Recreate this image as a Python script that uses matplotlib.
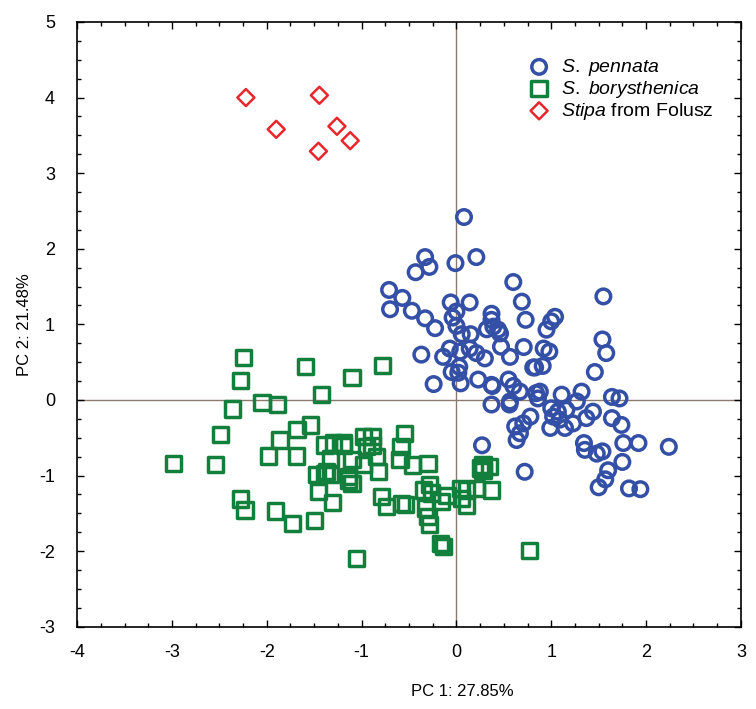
import matplotlib
matplotlib.use("Agg")
import matplotlib.pyplot as plt
from matplotlib.ticker import MultipleLocator

plt.rcParams['font.family'] = ['Liberation Sans', 'DejaVu Sans']
plt.rcParams['mathtext.fontset'] = 'custom'
plt.rcParams['mathtext.it'] = 'Liberation Sans:italic'
plt.rcParams['mathtext.rm'] = 'Liberation Sans'
plt.rcParams['axes.unicode_minus'] = False

# PCA scores
pennata_x = [0.08, -0.33, -0.285, -0.43, -0.01, 0.21, 0.60, -0.71, -0.57, -0.70,
             -0.47, -0.33, -0.225, -0.06, 0.14, 0.0, -0.04, 0.0, 0.37, 0.37,
             0.39, 0.44, 0.32, 0.69, 0.73, 0.15, 0.056, -0.37, -0.14, -0.07,
             0.04, 0.14, 0.21, 0.30, 0.47, 0.565, 0.71, -0.05, 0.02, 0.03,
             -0.24, 0.045, 0.23, 0.37, 0.55, 0.60, 0.81, 0.37, 0.565, 0.84,
             1.55, 1.04, 1.00, 0.95, 1.54, 1.58, 0.92, 0.98, 0.83, 0.91,
             1.46, 0.67, 0.88, 0.86, 1.11, 1.32, 1.27, 1.64, 1.72, 0.56,
             1.00, 1.07, 1.16, 1.02, 1.09, 0.78, 0.705, 0.62, 0.67, 0.635,
             0.99, 1.145, 1.23, 1.37, 1.44, 1.64, 1.74, 1.345, 1.355, 1.48,
             1.54, 1.76, 1.92, 2.24, 1.75, 0.27, 0.72, 1.60, 1.57, 1.50,
             1.82, 1.94, 0.46, 0.38]
pennata_y = [2.42, 1.89, 1.76, 1.69, 1.81, 1.89, 1.56, 1.455, 1.35, 1.20,
             1.18, 1.08, 0.95, 1.29, 1.29, 1.17, 1.09, 0.98, 1.14, 1.06,
             0.97, 0.93, 0.935, 1.30, 1.06, 0.87, 0.87, 0.60, 0.57, 0.68,
             0.64, 0.68, 0.62, 0.55, 0.705, 0.57, 0.70, 0.37, 0.36, 0.44,
             0.21, 0.22, 0.27, 0.20, 0.27, 0.185, 0.43, -0.06, -0.02, 0.09,
             1.37, 1.10, 1.04, 0.93, 0.80, 0.62, 0.68, 0.64, 0.43, 0.45,
             0.37, 0.11, 0.11, 0.02, 0.07, 0.11, -0.02, 0.04, 0.02, -0.06,
             -0.11, -0.155, -0.13, -0.22, -0.26, -0.22, -0.31, -0.35, -0.44, -0.53,
             -0.37, -0.37, -0.31, -0.24, -0.155, -0.24, -0.33, -0.57, -0.66, -0.71,
             -0.68, -0.57, -0.57, -0.62, -0.82, -0.60, -0.95, -0.93, -1.05, -1.155,
             -1.17, -1.18, 0.88, 0.185]

borys_x = [-2.245, -2.28, -2.36, -2.49, -2.985, -2.54, -2.28, -2.23, -1.91, -1.73,
           -1.50, -1.59, -1.42, -2.05, -1.89, -1.68, -1.54, -1.86, -1.98, -1.69,
           -1.385, -1.19, -0.98, -0.945, -0.98, -1.47, -1.385, -1.33, -1.14, -1.10,
           -1.455, -1.31, -1.05, -1.10, -0.78, -0.55, -0.585, -0.595, -0.46, -0.30,
           -0.89, -0.89, -0.84, -0.82, -1.19, -1.10, -1.33, -1.37, -1.14, -0.79,
           -0.735, -0.58, -0.54, -0.28, -0.26, -0.33, -0.28, -0.30, -0.17, -0.14,
           -0.155, -0.10, 0.04, 0.11, 0.11, 0.21, 0.28, 0.35, 0.28, 0.37,
           0.77, -0.35, 0.055, 0.25, -1.30]
borys_y = [0.56, 0.26, -0.12, -0.46, -0.84, -0.85, -1.31, -1.455, -1.47, -1.63,
           -1.59, 0.44, 0.075, -0.035, -0.06, -0.39, -0.33, -0.53, -0.74, -0.74,
           -0.595, -0.57, -0.485, -0.62, -0.85, -0.99, -0.97, -0.99, -1.01, -1.10,
           -1.21, -1.36, -2.10, 0.30, 0.46, -0.44, -0.62, -0.79, -0.86, -0.84,
           -0.485, -0.60, -0.75, -0.95, -0.60, -0.79, -0.77, -0.95, -1.06, -1.28,
           -1.41, -1.37, -1.38, -1.12, -1.23, -1.43, -1.65, -1.54, -1.90, -1.94,
           -1.345, -1.26, -1.17, -1.39, -1.19, -1.17, -0.86, -0.88, -0.93, -1.19,
           -1.99, -1.19, -1.30, -0.90, -0.57]

folusz_x = [-2.22, -1.90, -1.445, -1.26, -1.12, -1.455]
folusz_y = [4.00, 3.58, 4.03, 3.62, 3.43, 3.29]

blue = '#3450a6'
green = '#12803c'
red = '#e8262c'

fig = plt.figure(figsize=(7.56, 7.09), dpi=100)
ax = fig.add_axes([0.102, 0.116, 0.878, 0.853])

ax.axhline(0, color='#8c7a70', lw=1, zorder=1)
ax.axvline(0, color='#8c7a70', lw=1, zorder=1)

ax.scatter(pennata_x, pennata_y, s=110, marker='o', facecolors='none',
           edgecolors=blue, linewidths=2.5, zorder=3, label=r'$\it{S.\ pennata}$')
ax.scatter(borys_x, borys_y, s=120, marker='s', facecolors='none',
           edgecolors=green, linewidths=2.5, zorder=2, label=r'$\it{S.\ borysthenica}$')
ax.scatter(folusz_x, folusz_y, s=75, marker='D', facecolors='none',
           edgecolors=red, linewidths=1.8, zorder=4, label=r'$\it{Stipa}$ from Folusz')

ax.set_xlim(-4, 3)
ax.set_ylim(-3, 5)
ax.xaxis.set_major_locator(MultipleLocator(1))
ax.yaxis.set_major_locator(MultipleLocator(1))
ax.xaxis.set_minor_locator(MultipleLocator(0.25))
ax.yaxis.set_minor_locator(MultipleLocator(0.25))
ax.tick_params(which='both', direction='in', top=True, right=True, labelsize=13)
ax.tick_params(axis='x', which='major', pad=12.5)
ax.tick_params(axis='y', which='major', pad=16)
ax.tick_params(which='major', length=5, width=1)
ax.tick_params(which='minor', length=3, width=1)
for sp in ax.spines.values():
    sp.set_linewidth(1.2)

ax.set_xlabel('PC 1: 27.85%', fontsize=12)
ax.set_ylabel('PC 2: 21.48%', fontsize=12)
ax.xaxis.set_label_coords(0.58, -0.095)
ax.yaxis.set_label_coords(-0.068, 0.5)

ax.legend(loc='upper left', bbox_to_anchor=(0.655, 0.955), frameon=False,
          fontsize=14, handletextpad=0.15, labelspacing=0.05, markerscale=1.0,
          borderaxespad=0.0)

fig.savefig('out.png', dpi=100)
